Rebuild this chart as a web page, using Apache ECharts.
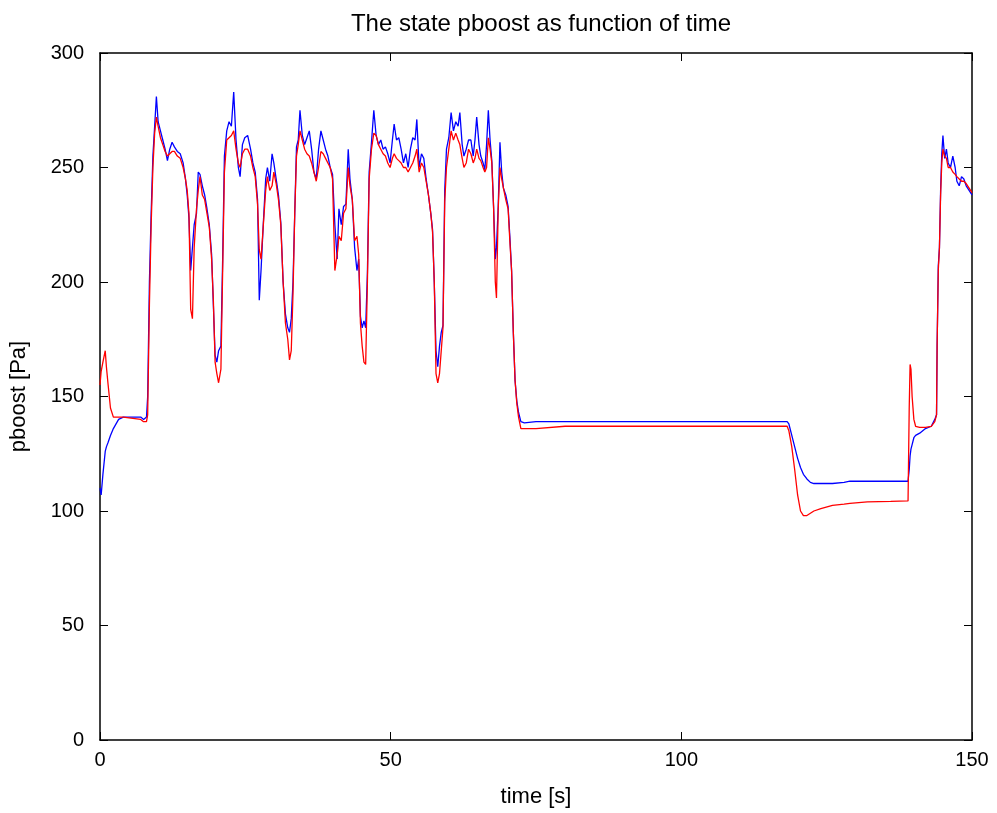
<!DOCTYPE html>
<html>
<head>
<meta charset="utf-8">
<script src="https://cdn.jsdelivr.net/npm/echarts@6/dist/echarts.min.js"></script>
<style>
html,body{margin:0;padding:0;background:#fff;}
#c{width:997px;height:813px;}
</style>
</head>
<body>
<div id="c"></div>
<script>
// time [s]
var time = [
  0,0.2,0.5,0.9,1.1,1.4,1.8,2.3,3.2,4,7,7.5,8.0,
  8.2,8.5,8.8,9.1,9.4,9.7,10.0,
  10.4,10.8,11.2,11.6,12.0,12.4,12.8,13.3,13.8,14.3,14.7,
  15.0,15.3,15.6,15.9,16.2,16.6,16.9,17.2,17.6,18.0,18.4,18.8,19.2,19.5,19.8,20.1,20.4,20.8,
  21.1,21.4,21.8,22.2,22.6,23.0,23.4,23.8,24.1,24.5,24.9,25.4,25.9,26.3,26.7,27.1,
  27.4,27.7,28.1,28.5,28.8,29.2,29.6,29.9,30.3,30.7,31.1,31.5,31.9,32.3,32.6,32.9,33.2,33.5,33.8,
  34.1,34.4,34.8,35.2,35.6,36.0,36.4,36.8,37.2,37.6,38.0,38.4,38.8,39.2,39.6,40.0,
  40.4,40.8,41.1,41.5,41.9,42.3,42.7,43.0,43.4,43.8,44.2,44.5,44.8,45.1,45.4,45.7,46.0,
  46.3,46.7,47.1,47.5,47.9,48.3,48.7,49.1,49.5,49.9,50.3,50.6,51.0,51.4,51.8,52.2,
  52.6,53.0,53.4,53.8,54.2,54.5,54.9,55.3,55.7,56.1,56.5,56.9,57.2,57.5,57.8,58.1,58.4,58.7,59.0,
  59.3,59.6,60.0,60.4,60.8,61.2,61.6,61.9,62.3,62.6,63.0,63.4,63.8,64.2,64.5,64.8,65.2,65.5,65.9,66.2,
  66.5,66.8,67.1,67.4,67.7,68.0,68.2,68.5,68.8,69.1,69.4,69.8,70.2,70.5,70.8,71.1,71.4,71.7,72.0,72.4,73.0,
  75,80,
  118.2,118.5,119.0,119.5,120.0,120.5,121.0,121.6,122.2,122.8,124,126,128,129,132,136,139.0,
  139.2,139.35,139.5,139.7,140.0,140.3,141,142,143,143.6,143.9,
  144.0,144.2,144.4,144.6,144.8,145.0,145.3,145.6,145.9,146.3,146.7,147.1,147.4,147.8,148.2,148.6,149.0,149.5,150
];
// blue trace
var pboostBlue = [
  110,107,116,126,128,130,133,136,140,141,141,140,141,
  150,200,230,255,268,281,270,
  266,262,258,253,258,261,259,257,256,252,245,
  238,228,205,215,225,230,248,247,242,238,232,225,212,190,168,165,170,172,
  210,255,266,270,268,283,262,250,246,260,263,264,258,252,248,236,
  192,205,226,245,250,244,256,252,245,238,226,200,186,180,178,184,200,230,259,
  262,275,264,260,263,266,258,248,245,258,266,262,258,255,250,247,
  225,210,232,225,233,234,258,245,236,215,205,210,185,180,183,180,204,
  248,261,275,264,260,262,258,259,256,252,262,269,262,263,258,252,
  256,250,258,263,262,271,250,256,254,245,238,230,223,200,170,163,172,178,181,
  240,258,263,274,266,270,268,274,260,255,258,262,262,255,262,272,260,255,252,249,
  260,275,262,253,233,210,215,233,261,248,241,238,233,220,205,178,157,148,143,139,138.5,
  139,139,
  139,138,133,128,123,119,116,114,112.5,112,112,112,112.5,113,113,113,113,
  118,124,127,129,132,133,134,136,137,140,142,
  172,207,215,240,256,264,254,258,252,250,255,250,244,242,246,245,242,240,238
];
// red trace
var pboostRed = [
  155,161,165,170,163,155,145,141,141,141,140,139,139,
  142,190,225,250,265,272,268,
  263,260,257,255,256,257,257,255,254,250,245,
  240,230,188,184,215,232,240,246,238,236,230,224,210,192,165,160,156,162,
  205,248,262,263,264,266,258,252,250,256,258,258,255,250,246,234,
  214,210,225,240,246,240,242,248,243,236,225,200,182,175,166,170,195,230,255,
  260,266,262,258,256,255,252,248,244,250,257,256,254,252,250,245,
  205,212,220,218,230,232,250,242,236,218,220,212,182,172,165,164,200,
  245,258,265,264,260,258,256,255,252,250,254,256,254,253,252,250,
  250,248,250,252,255,258,248,252,250,244,238,230,222,200,160,156,160,170,180,
  235,250,258,266,262,265,262,260,254,250,252,258,256,252,254,258,254,253,250,248,
  250,263,258,252,233,200,193,232,250,245,241,236,232,218,205,178,157,147,141,136,136,
  136,137,
  137,135,128,118,107,100,98,98,99,100,101,102.5,103,103.3,104,104.2,104.4,
  145,164,162,150,140,137,136.5,136.5,137,139,142,
  172,205,215,238,252,258,255,254,250,250,248,247,246,245,244,244,243,241,239
];
var xTicks = [0, 50, 100, 150];
var yTicks = [0, 50, 100, 150, 200, 250, 300];

function pairs(ts, vs) {
  var out = [];
  for (var i = 0; i < ts.length && i < vs.length; i++) out.push([ts[i], vs[i]]);
  return out;
}

var FONT = "'Liberation Sans', Arial, sans-serif";
var chart = echarts.init(document.getElementById('c'), null, {renderer: 'canvas'});
var tickStyle = {show: true, inside: true, length: 8, lineStyle: {color: '#000', width: 1}};
var lineStyleAx = {show: true, onZero: false, lineStyle: {color: '#000', width: 1.5}};
chart.setOption({
  animation: false,
  backgroundColor: '#ffffff',
  title: {
    text: 'The state pboost as function of time',
    left: 536, top: 7, textAlign: 'center',
    textStyle: {fontFamily: FONT, fontSize: 24, fontWeight: 'normal', color: '#000'}
  },
  grid: {left: 100, right: 25, top: 53, bottom: 73, containLabel: false},
  xAxis: [
    {type: 'value', min: xTicks[0], max: xTicks[xTicks.length - 1], interval: 50, position: 'bottom',
     name: 'time [s]', nameLocation: 'middle', nameGap: 46,
     nameTextStyle: {fontFamily: FONT, fontSize: 22, color: '#000'},
     axisLine: lineStyleAx, axisTick: tickStyle, splitLine: {show: false},
     axisLabel: {fontFamily: FONT, fontSize: 20, color: '#000', margin: 10}},
    {type: 'value', min: xTicks[0], max: xTicks[xTicks.length - 1], interval: 50, position: 'top',
     axisLine: lineStyleAx, axisTick: tickStyle, splitLine: {show: false}, axisLabel: {show: false}}
  ],
  yAxis: [
    {type: 'value', min: yTicks[0], max: yTicks[yTicks.length - 1], interval: 50, position: 'left',
     name: 'pboost [Pa]', nameLocation: 'middle', nameGap: 70, nameRotate: 90,
     nameTextStyle: {fontFamily: FONT, fontSize: 22, color: '#000'},
     axisLine: lineStyleAx, axisTick: tickStyle, splitLine: {show: false},
     axisLabel: {fontFamily: FONT, fontSize: 20, color: '#000', margin: 16}},
    {type: 'value', min: yTicks[0], max: yTicks[yTicks.length - 1], interval: 50, position: 'right',
     axisLine: lineStyleAx, axisTick: tickStyle, splitLine: {show: false}, axisLabel: {show: false}}
  ],
  series: [
    {type: 'line', name: 'blue', data: pairs(time, pboostBlue), showSymbol: false, symbol: 'none',
     lineStyle: {color: '#0000ff', width: 1.3}, itemStyle: {color: '#0000ff'}, xAxisIndex: 0, yAxisIndex: 0},
    {type: 'line', name: 'red', data: pairs(time, pboostRed), showSymbol: false, symbol: 'none',
     lineStyle: {color: '#ff0000', width: 1.3}, itemStyle: {color: '#ff0000'}, xAxisIndex: 0, yAxisIndex: 0}
  ]
});
</script>
</body>
</html>
